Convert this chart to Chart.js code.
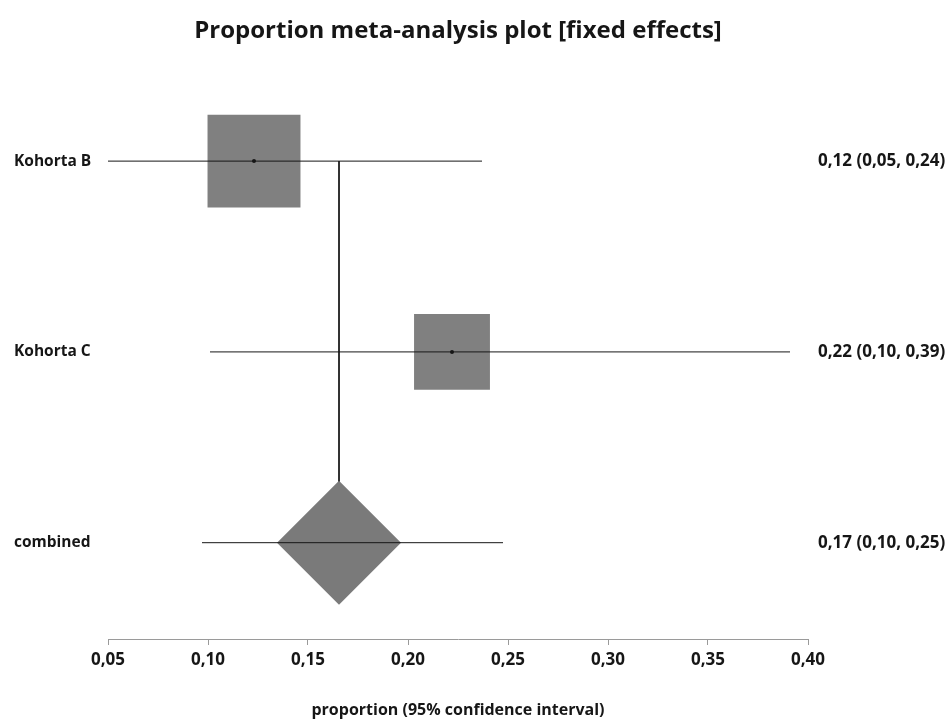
<!DOCTYPE html>
<html>
<head>
<meta charset="utf-8">
<script src="https://cdn.jsdelivr.net/npm/chart.js@4.4.1/dist/chart.umd.min.js"></script>
<style>
  html, body { margin: 0; padding: 0; background: #fff; }
  #wrap { width: 950px; height: 720px; }
</style>
</head>
<body>
<div id="wrap"><canvas id="forestChart"></canvas></div>
<script>
const studies = ['Kohorta B', 'Kohorta C', 'combined'];
const estimates = [0.123, 0.222, 0.1655];
const lowerCI = [0.05, 0.101, 0.097];
const upperCI = [0.237, 0.391, 0.2475];
const weights = [60, 40]; // % weight of each cohort (box area)
const ciLabels = ['0,12 (0,05, 0,24)', '0,22 (0,10, 0,39)', '0,17 (0,10, 0,25)'];
const xTicks = [0.05, 0.10, 0.15, 0.20, 0.25, 0.30, 0.35, 0.40];

const rowTicks = studies.map((_, i) => ({ value: i }));
const pooled = studies.length - 1;
const ink = '#161616';
const boxGray = '#808080';

Chart.defaults.font.family = '"Open Sans", Lato, sans-serif';
Chart.defaults.font.weight = 'bold';
Chart.defaults.color = ink;

// confidence interval lines
const ciSets = studies.map((s, i) => ({
  label: s + ' CI',
  data: [{ x: lowerCI[i], y: i }, { x: upperCI[i], y: i }],
  showLine: true,
  borderColor: ink,
  borderWidth: 1,
  pointRadius: 0,
  order: 1
}));

const ctx = document.getElementById('forestChart').getContext('2d');
new Chart(ctx, {
  type: 'scatter',
  data: {
    datasets: [
      {
        label: 'pooled line',
        data: [{ x: estimates[pooled], y: 0 }, { x: estimates[pooled], y: pooled }],
        showLine: true,
        borderColor: ink,
        borderWidth: 1,
        pointRadius: 0,
        order: 4
      },
      {
        label: 'boxes',
        data: weights.map((w, i) => ({ x: estimates[i], y: i })),
        pointStyle: 'rect',
        pointRadius: weights.map(w => 12 * Math.sqrt(w) / Math.SQRT2),
        backgroundColor: boxGray,
        borderWidth: 0,
        order: 3
      },
      {
        label: 'combined',
        data: [{ x: estimates[pooled], y: pooled }],
        pointStyle: 'rectRot',
        pointRadius: 62,
        backgroundColor: '#7a7a7a',
        borderWidth: 0,
        order: 3
      },
      ...ciSets,
      {
        label: 'estimates',
        data: weights.map((w, i) => ({ x: estimates[i], y: i })),
        pointRadius: 2,
        backgroundColor: ink,
        borderWidth: 0,
        order: 0
      }
    ]
  },
  options: {
    responsive: true,
    maintainAspectRatio: false,
    animation: false,
    events: [],
    layout: { padding: { left: 14, right: 0, top: 0, bottom: 0 } },
    scales: {
      x: {
        type: 'linear',
        min: 0.05,
        max: 0.40,
        afterBuildTicks: s => { s.ticks = xTicks.map(v => ({ value: v })); },
        afterFit: s => { s.height = 80; },
        grid: { display: true, drawOnChartArea: false, drawTicks: true, tickLength: 5, color: '#9a9a9a' },
        border: { display: true, color: '#9a9a9a' },
        ticks: {
          padding: 5,
          font: { size: 17, weight: 'bold' },
          callback: v => v.toFixed(2).replace('.', ',')
        },
        title: {
          display: true,
          text: 'proportion (95% confidence interval)',
          font: { size: 16, weight: 'bold' },
          padding: { top: 20, bottom: 0 }
        }
      },
      y: {
        type: 'linear',
        position: 'left',
        reverse: true,
        min: -0.5,
        max: 2.51,
        afterBuildTicks: s => { s.ticks = rowTicks.map(t => ({ ...t })); },
        afterFit: s => { s.width = 94; },
        grid: { display: false, drawTicks: false },
        border: { display: false },
        ticks: {
          crossAlign: 'far',
          font: { size: 15.5, weight: 'bold' },
          callback: v => studies[v]
        }
      },
      yR: {
        type: 'linear',
        position: 'right',
        reverse: true,
        min: -0.5,
        max: 2.51,
        afterBuildTicks: s => { s.ticks = rowTicks.map(t => ({ ...t })); },
        afterFit: s => { s.width = 142; },
        grid: { display: false, drawTicks: false },
        border: { display: false },
        ticks: {
          padding: 10,
          font: { size: 17, weight: 'bold' },
          callback: v => ciLabels[v]
        }
      }
    },
    plugins: {
      legend: { display: false },
      tooltip: { enabled: false },
      title: {
        display: true,
        fullSize: false,
        text: 'Proportion meta-analysis plot [fixed effects]',
        font: { size: 24, weight: 'bold' },
        color: ink,
        padding: { top: 16, bottom: 20 }
      }
    }
  }
});
</script>
</body>
</html>
